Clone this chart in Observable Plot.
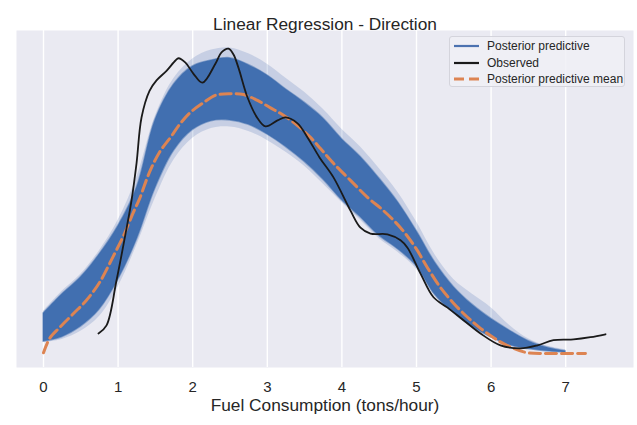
<!DOCTYPE html>
<html>
<head>
<meta charset="utf-8">
<script src="https://cdn.jsdelivr.net/npm/d3@7"></script>
<script src="https://cdn.jsdelivr.net/npm/@observablehq/plot@0.6"></script>
<style>
  body { margin: 0; background: #fff; font-family: "Liberation Sans", Arial, sans-serif; }
  #chart { position: relative; width: 637px; height: 425px; }
  #legend {
    position: absolute; left: 449px; top: 36px; width: 176px; height: 51px;
    background: rgba(240, 240, 246, 0.85); border: 1px solid #d4d4dc; border-radius: 3px;
    font-size: 12px; color: #262626; box-sizing: border-box; padding-top: 1px;
  }
  #legend .row { display: flex; align-items: center; height: 16.5px; }
  #legend svg { margin-left: 4px; margin-right: 8px; }
</style>
</head>
<body>
<div id="chart"><div id="legend"></div></div>
<script>
// Fuel consumption grid (tons/hour) shared by the posterior predictive envelopes
const bandX = [0, 0.25, 0.5, 0.75, 1.0, 1.25, 1.5, 1.75, 2.0, 2.25, 2.5, 2.75, 3.0, 3.25, 3.5,
  3.75, 4.0, 4.25, 4.5, 4.75, 5.0, 5.25, 5.5, 5.75, 6.0, 6.25, 6.5, 6.75, 7.0];
// dense core of the posterior predictive density draws
const coreHigh = [0.054, 0.080, 0.103, 0.134, 0.172, 0.224, 0.316, 0.364, 0.388, 0.396, 0.399, 0.390,
  0.376, 0.357, 0.339, 0.318, 0.290, 0.266, 0.237, 0.205, 0.166, 0.123, 0.090, 0.066, 0.047, 0.031,
  0.017, 0.008, 0.003];
const coreLow = [0.016, 0.022, 0.036, 0.059, 0.099, 0.153, 0.223, 0.274, 0.302, 0.314, 0.315, 0.309,
  0.296, 0.279, 0.259, 0.235, 0.207, 0.184, 0.159, 0.141, 0.118, 0.079, 0.055, 0.036, 0.022, 0.011,
  0.006, 0.003, 0.001];
// outermost individual draws
const spreadHigh = [0.057, 0.084, 0.107, 0.139, 0.180, 0.238, 0.321, 0.372, 0.398, 0.410, 0.413, 0.405,
  0.391, 0.372, 0.353, 0.330, 0.303, 0.279, 0.250, 0.218, 0.178, 0.133, 0.100, 0.080, 0.062, 0.038,
  0.020, 0.010, 0.005];
const spreadLow = [0.015, 0.019, 0.030, 0.050, 0.090, 0.146, 0.210, 0.262, 0.291, 0.304, 0.306, 0.300,
  0.288, 0.272, 0.253, 0.229, 0.204, 0.180, 0.155, 0.137, 0.114, 0.078, 0.054, 0.035, 0.021, 0.010,
  0.005, 0.002, 0.001];

// posterior predictive mean density
const meanX = [0.000, 0.080, 0.214, 0.402, 0.576, 0.751, 0.938, 1.072, 1.206, 1.287, 1.421, 1.555,
  1.702, 1.836, 1.971, 2.145, 2.306, 2.507, 2.681, 2.869, 3.043, 3.217, 3.405, 3.579, 3.713, 3.887,
  4.115, 4.343, 4.558, 4.786, 4.987, 5.147, 5.322, 5.496, 5.684, 5.858, 6.086, 6.300, 6.488, 6.796, 7.265];
const meanY = [0.001, 0.020, 0.035, 0.054, 0.072, 0.096, 0.132, 0.159, 0.191, 0.209, 0.245, 0.272,
  0.292, 0.311, 0.326, 0.339, 0.349, 0.351, 0.350, 0.342, 0.332, 0.322, 0.308, 0.292, 0.277, 0.257,
  0.234, 0.211, 0.193, 0.170, 0.143, 0.116, 0.089, 0.068, 0.049, 0.034, 0.018, 0.007, 0.001, 0.000, 0.000];

// observed density
const obsX = [0.737, 0.845, 0.979, 1.113, 1.180, 1.247, 1.314, 1.421, 1.515, 1.649, 1.769, 1.810, 1.903,
  2.011, 2.131, 2.306, 2.386, 2.480, 2.547, 2.614, 2.735, 2.869, 2.976, 3.137, 3.244, 3.405, 3.539,
  3.700, 3.887, 4.115, 4.249, 4.383, 4.611, 4.786, 4.879, 5.054, 5.228, 5.416, 5.630, 5.858, 6.126,
  6.394, 6.622, 6.836, 7.105, 7.332, 7.534];
const obsY = [0.027, 0.038, 0.099, 0.169, 0.207, 0.257, 0.319, 0.355, 0.369, 0.382, 0.396, 0.399, 0.393,
  0.378, 0.366, 0.392, 0.407, 0.412, 0.404, 0.386, 0.346, 0.318, 0.307, 0.315, 0.319, 0.311, 0.292,
  0.265, 0.238, 0.193, 0.170, 0.162, 0.161, 0.153, 0.143, 0.108, 0.076, 0.062, 0.045, 0.027, 0.011,
  0.007, 0.011, 0.018, 0.019, 0.022, 0.026];

const xTicks = [0, 1, 2, 3, 4, 5, 6, 7];
const titleText = "Linear Regression - Direction";
const xLabel = "Fuel Consumption (tons/hour)";
const legendItems = ["Posterior predictive", "Observed", "Posterior predictive mean"];

const band = bandX.map((x, i) => ({x, lo: coreLow[i], hi: coreHigh[i], slo: spreadLow[i], shi: spreadHigh[i]}));
const mean = meanX.map((x, i) => ({x, y: meanY[i]}));
const observed = obsX.map((x, i) => ({x, y: obsY[i]}));

const BLUE = "#4C72B0", ORANGE = "#DD8452", INK = "#262626";

const chart = Plot.plot({
  width: 637,
  height: 425,
  marginLeft: 16,
  marginRight: 4,
  marginTop: 30,
  marginBottom: 58,
  x: {domain: [-0.362, 7.909]},
  y: {domain: [-0.0189, 0.4365], axis: null},
  style: {fontFamily: "'Liberation Sans', Arial, sans-serif", color: INK, background: "white"},
  marks: [
    Plot.frame({fill: "#EAEAF2", stroke: null}),
    Plot.ruleX(xTicks, {stroke: "white", strokeWidth: 1.4}),
    // faint outer draws, then the dense core
    Plot.areaY(band, {x: "x", y1: "slo", y2: "shi", fill: BLUE, fillOpacity: 0.22, curve: "catmull-rom"}),
    Plot.areaY(band, {x: "x", y1: "lo", y2: "hi", fill: "#416FB0", stroke: "#416FB0", strokeOpacity: 0.5, strokeWidth: 1.5, curve: "catmull-rom"}),
    Plot.line(mean, {x: "x", y: "y", stroke: ORANGE, strokeWidth: 3, strokeDasharray: "11,5", curve: "catmull-rom"}),
    Plot.line(observed, {x: "x", y: "y", stroke: "#1a1a1a", strokeWidth: 1.8, curve: "catmull-rom"}),
    Plot.axisX(xTicks, {tickSize: 0, tickPadding: 14, fontSize: 15, label: null, fill: INK}),
    Plot.text([titleText], {frameAnchor: "top", dy: -13, fontSize: 17.3, fill: INK}),
    Plot.text([xLabel], {frameAnchor: "bottom", dy: 43, fontSize: 17.3, fill: INK})
  ]
});
document.getElementById("chart").prepend(chart);

// legend
const legend = document.getElementById("legend");
const swatches = [
  `<line x1="0" x2="25" y1="4" y2="4" stroke="${BLUE}" stroke-width="2.2"/>`,
  `<line x1="0" x2="25" y1="4" y2="4" stroke="#1a1a1a" stroke-width="2.2"/>`,
  `<line x1="0" x2="25" y1="4" y2="4" stroke="${ORANGE}" stroke-width="3" stroke-dasharray="10,5"/>`
];
legendItems.forEach((label, i) => {
  const row = document.createElement("div");
  row.className = "row";
  row.innerHTML = `<svg width="25" height="8">${swatches[i]}</svg><span>${label}</span>`;
  legend.appendChild(row);
});
</script>
</body>
</html>
